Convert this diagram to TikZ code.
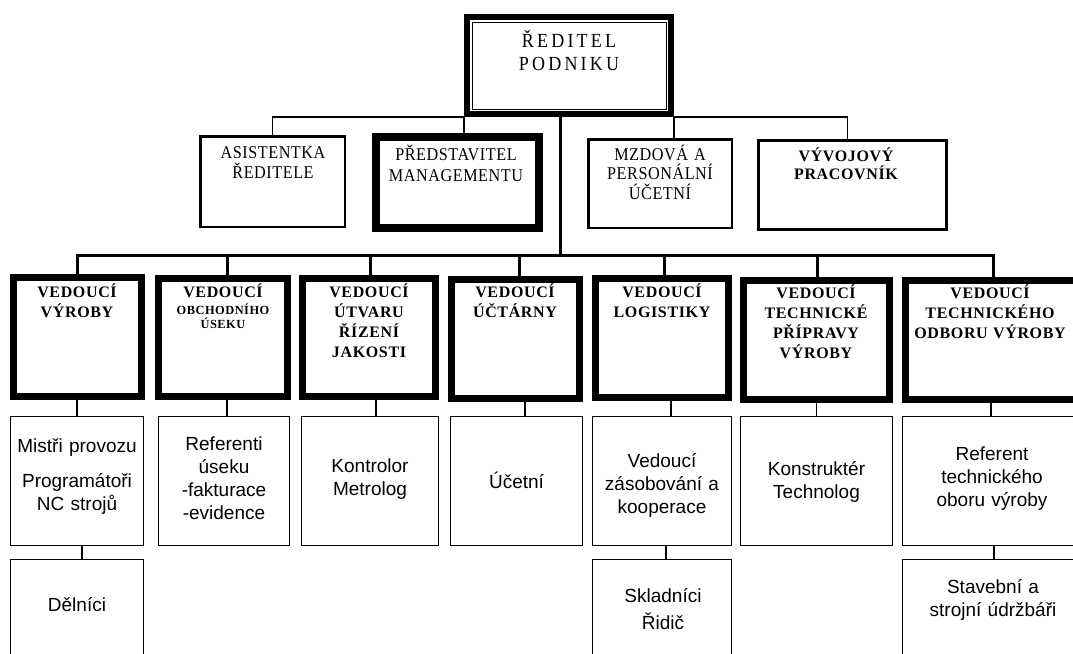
\documentclass[tikz,border=0pt]{standalone}
\usepackage{fontspec}
\setmainfont{Liberation Serif}
\newfontfamily\topfont[LetterSpace=16,FakeStretch=0.9]{Liberation Serif}
\newfontfamily\rowtwofont[LetterSpace=3,FakeStretch=0.9]{Liberation Serif}
\newfontfamily\boldserif[LetterSpace=4]{Liberation Serif}
\newfontfamily\arialf{Liberation Sans}
\tikzset{
  box/.style={draw, inner sep=0pt},
  c1/.style={line width=1.3pt},
  c3/.style={line width=3pt},
  c4/.style={line width=1.2pt},
  txt/.style={align=center, text width=190pt, inner sep=0pt, anchor=base},
  ttop/.style={txt, font=\topfont\fontsize{20}{23}\selectfont},
  t2/.style={txt, font=\rowtwofont\fontsize{18}{19.7}\selectfont},
  t2b/.style={txt, font=\boldserif\bfseries\fontsize{16}{18}\selectfont},
  t3/.style={txt, font=\boldserif\bfseries\fontsize{16}{20}\selectfont},
  t3s/.style={txt, font=\boldserif\bfseries\fontsize{12.4}{14}\selectfont},
  t4/.style={txt, font=\arialf\fontsize{19}{23}\selectfont},
}
\newcommand\orgbox[6]{\node[box, line width=#6, minimum width={(#4-#2)*1pt-#6}, minimum height={(#5-#3)*1pt-#6}] (#1) at ({(#2+#4)/2},{(#3+#5)/2}) {};}
\begin{document}
\begin{tikzpicture}[x=1pt, y=-1pt]
\clip (0,0) rectangle (1073,653);
% top
\orgbox{dir}{464}{14}{674}{117}{6pt}
\draw[line width=1pt] ([shift={(8,8)}]dir.north west) rectangle ([shift={(-8,-8)}]dir.south east);
\node[ttop] (dirt) at (569,47.7) {ŘEDITEL\\PODNIKU};
% row 2
\orgbox{asis}{199}{135}{346}{228}{2.5pt}
\orgbox{pred}{372}{133}{543}{232}{8pt}
\orgbox{mzd}{587}{138}{733}{229}{2.5pt}
\orgbox{vyv}{757}{139}{948}{231}{3pt}
\node[t2] (asist) at (273,158.3) {ASISTENTKA\\ŘEDITELE};
\node[t2, font=\rowtwofont\fontsize{18}{21}\selectfont] (predt) at (456,160) {PŘEDSTAVITEL\\MANAGEMENTU};
\node[t2] (mzdt) at (660,160) {MZDOVÁ A\\PERSONÁLNÍ\\ÚČETNÍ};
\node[t2b] (vyvt) at (846,161.3) {VÝVOJOVÝ\\PRACOVNÍK};
\draw[c1] (asis.north) |- (dir.south west);
\draw[c1] ([xshift=-5pt]vyv.north) |- (dir.south east);
\draw[c1] (pred.north -| dir.south west) -- (dir.south west);
\draw[c1] (mzd.north -| dir.south east) -- (dir.south east);
% row 3
\orgbox{v1}{10}{274}{145}{400}{7pt}
\orgbox{v2}{155}{275}{291}{400}{7pt}
\orgbox{v3}{299}{275}{439}{400}{7pt}
\orgbox{v4}{448}{276}{583}{402}{7pt}
\orgbox{v5}{592}{275}{732}{401}{7pt}
\orgbox{v6}{740}{277}{893}{403}{7pt}
\orgbox{v7}{902}{277}{1080}{403}{7pt}
\node[t3] (v1t) at (77,297) {VEDOUCÍ\\VÝROBY};
\node[t3] (v2t) at (223,297) {VEDOUCÍ};
\node[t3s] (v2s) at (223,314) {OBCHODNÍHO\\ÚSEKU};
\node[t3] (v3t) at (369,297) {VEDOUCÍ\\ÚTVARU\\ŘÍZENÍ\\JAKOSTI};
\node[t3] (v4t) at (515,297) {VEDOUCÍ\\ÚČTÁRNY};
\node[t3] (v5t) at (662,297) {VEDOUCÍ\\LOGISTIKY};
\node[t3] (v6t) at (816,298.3) {VEDOUCÍ\\TECHNICKÉ\\PŘÍPRAVY\\VÝROBY};
\node[t3] (v7t) at (990,298.3) {VEDOUCÍ\\TECHNICKÉHO\\ODBORU VÝROBY};
\coordinate (busy) at (0,255);
\draw[c3] ([xshift=-9pt]dir.south) -- ([xshift=-9pt]dir.south |- busy);
\draw[c3] (v1.north) -- (v1.north |- busy) -- ([xshift=2pt]v7.north |- busy) -- ([xshift=2pt]v7.north);
\draw[c3] ([xshift=4.5pt]v2.north) -- ([xshift=4.5pt]v2.north |- busy);
\draw[c3] ([xshift=1.5pt]v3.north) -- ([xshift=1.5pt]v3.north |- busy);
\draw[c3] ([xshift=3.5pt]v4.north) -- ([xshift=3.5pt]v4.north |- busy);
\draw[c3] ([xshift=2pt]v5.north) -- ([xshift=2pt]v5.north |- busy);
\draw[c3] ([xshift=1pt]v6.north) -- ([xshift=1pt]v6.north |- busy);
% row 4
\orgbox{p1}{10}{416}{144}{546}{1.2pt}
\orgbox{p2}{158}{416}{290}{546}{1.2pt}
\orgbox{p3}{301}{416}{439}{546}{1.2pt}
\orgbox{p4}{450}{416}{583}{546}{1.2pt}
\orgbox{p5}{592}{416}{732}{546}{1.2pt}
\orgbox{p6}{740}{416}{893}{546}{1.2pt}
\orgbox{p7}{902}{416}{1080}{546}{1.2pt}
\node[t4] (p1t) at (77,452) {Mistři provozu\\[12pt]Programátoři\\NC strojů};
\node[t4] (p2t) at (224,450) {Referenti\\úseku\\-fakturace\\-evidence};
\node[t4] (p3t) at (370,472) {Kontrolor\\Metrolog};
\node[t4] (p4t) at (516.5,488) {Účetní};
\node[t4] (p5t) at (662,467) {Vedoucí\\zásobování a\\kooperace};
\node[t4] (p6t) at (816.5,475) {Konstruktér\\Technolog};
\node[t4] (p7t) at (992,460) {Referent\\technického\\oboru výroby};
\draw[c4] (p1.north) -- (p1.north |- v1.south);
\draw[c4] ([xshift=3pt]p2.north) -- ([xshift=3pt]p2.north |- v2.south);
\draw[c4] ([xshift=6pt]p3.north) -- ([xshift=6pt]p3.north |- v3.south);
\draw[c4] ([xshift=8.5pt]p4.north) -- ([xshift=8.5pt]p4.north |- v4.south);
\draw[c4] ([xshift=9pt]p5.north) -- ([xshift=9pt]p5.north |- v5.south);
\draw[c4] (p6.north) -- (p6.north |- v6.south);
\draw[c4] (p7.north) -- (p7.north |- v7.south);
% row 5
\orgbox{q1}{10}{559}{144}{690}{1.2pt}
\orgbox{q5}{592}{559}{732}{690}{1.2pt}
\orgbox{q7}{902}{559}{1080}{690}{1.2pt}
\node[t4] (q1t) at (77,611) {Dělníci};
\node[t4] (q5t) at (663,602) {Skladníci\\[4pt]Řidič};
\node[t4] (q7t) at (993,593.5) {Stavební a\\strojní údržbáři};
\draw[c4] ([xshift=5pt]q1.north) -- ([xshift=5pt]q1.north |- p1.south);
\draw[c4] ([xshift=4pt]q5.north) -- ([xshift=4pt]q5.north |- p5.south);
\draw[c4] ([xshift=3pt]q7.north) -- ([xshift=3pt]q7.north |- p7.south);
\end{tikzpicture}
\end{document}
